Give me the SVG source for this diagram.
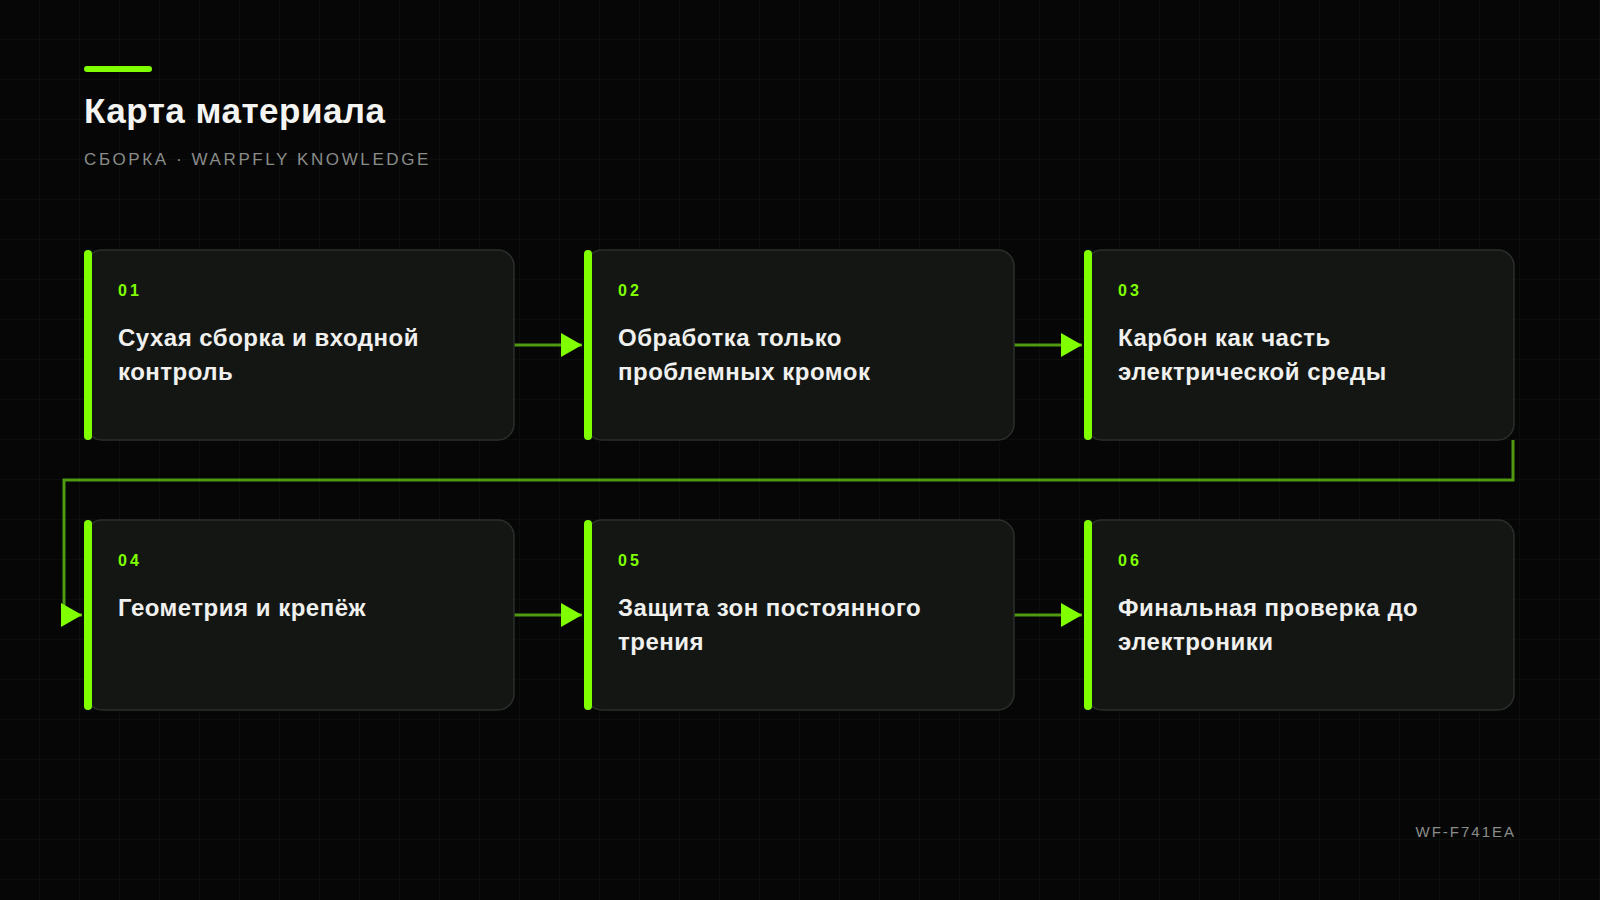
<svg xmlns="http://www.w3.org/2000/svg" width="1600" height="900" viewBox="0 0 1600 900">
<defs>
<pattern id="grid" width="40" height="40" patternUnits="userSpaceOnUse">
<path d="M40 0 V40 M0 40 H40" fill="none" stroke="#111511" stroke-width="1"/>
</pattern>
<marker id="arr" markerWidth="22" markerHeight="24" refX="21" refY="12" orient="auto" markerUnits="userSpaceOnUse">
<path d="M0 0 L21 12 L0 24 Z" fill="#7fff00"/>
</marker>
<style>
.card{fill:#131613;stroke:#2b2f2b;stroke-width:1.5}
.bar{fill:#7fff00}
.num{font-family:"Liberation Sans",Arial,sans-serif;font-weight:bold;font-size:16px;fill:#7fff00;letter-spacing:3px}
.ttl{font-family:"Liberation Sans",Arial,sans-serif;font-weight:bold;font-size:24px;fill:#f0f0ee;letter-spacing:0.5px}
.conn{fill:none;stroke:#4f9a10;stroke-width:3}
</style>
</defs>
<rect width="1600" height="900" fill="#050605"/>
<rect width="1600" height="900" fill="url(#grid)"/>
<g id="header">
<rect x="84" y="66" width="68" height="6" rx="3" fill="#7fff00"/>
<text x="84" y="123" font-family="Liberation Sans, Arial, sans-serif" font-weight="bold" font-size="35" fill="#f4f4f2" letter-spacing="0.5">Карта материала</text>
<text x="84" y="165" font-family="Liberation Sans, Arial, sans-serif" font-size="17" fill="#8a8c8a" letter-spacing="2.6">СБОРКА · WARPFLY KNOWLEDGE</text>
</g>
<g id="connectors">
<path class="conn" d="M514 345 H582" marker-end="url(#arr)"/>
<path class="conn" d="M1014 345 H1082" marker-end="url(#arr)"/>
<path class="conn" d="M1513 440 V480 H64 V615 H82" marker-end="url(#arr)"/>
<path class="conn" d="M514 615 H582" marker-end="url(#arr)"/>
<path class="conn" d="M1014 615 H1082" marker-end="url(#arr)"/>
</g>
<g id="node-01">
<rect class="card" x="86" y="250" width="428" height="190" rx="16"/>
<rect class="bar" x="84" y="250" width="8" height="190" rx="4"/>
<text class="num" x="118" y="296">01</text>
<text class="ttl" x="118" y="346">Сухая сборка и входной</text>
<text class="ttl" x="118" y="380">контроль</text>
</g>
<g id="node-02">
<rect class="card" x="586" y="250" width="428" height="190" rx="16"/>
<rect class="bar" x="584" y="250" width="8" height="190" rx="4"/>
<text class="num" x="618" y="296">02</text>
<text class="ttl" x="618" y="346">Обработка только</text>
<text class="ttl" x="618" y="380">проблемных кромок</text>
</g>
<g id="node-03">
<rect class="card" x="1086" y="250" width="428" height="190" rx="16"/>
<rect class="bar" x="1084" y="250" width="8" height="190" rx="4"/>
<text class="num" x="1118" y="296">03</text>
<text class="ttl" x="1118" y="346">Карбон как часть</text>
<text class="ttl" x="1118" y="380">электрической среды</text>
</g>
<g id="node-04">
<rect class="card" x="86" y="520" width="428" height="190" rx="16"/>
<rect class="bar" x="84" y="520" width="8" height="190" rx="4"/>
<text class="num" x="118" y="566">04</text>
<text class="ttl" x="118" y="616">Геометрия и крепёж</text>
</g>
<g id="node-05">
<rect class="card" x="586" y="520" width="428" height="190" rx="16"/>
<rect class="bar" x="584" y="520" width="8" height="190" rx="4"/>
<text class="num" x="618" y="566">05</text>
<text class="ttl" x="618" y="616">Защита зон постоянного</text>
<text class="ttl" x="618" y="650">трения</text>
</g>
<g id="node-06">
<rect class="card" x="1086" y="520" width="428" height="190" rx="16"/>
<rect class="bar" x="1084" y="520" width="8" height="190" rx="4"/>
<text class="num" x="1118" y="566">06</text>
<text class="ttl" x="1118" y="616">Финальная проверка до</text>
<text class="ttl" x="1118" y="650">электроники</text>
</g>
<text x="1516" y="837" text-anchor="end" font-family="Liberation Sans, Arial, sans-serif" font-size="15" fill="#8a8c8a" letter-spacing="2">WF-F741EA</text>
</svg>
